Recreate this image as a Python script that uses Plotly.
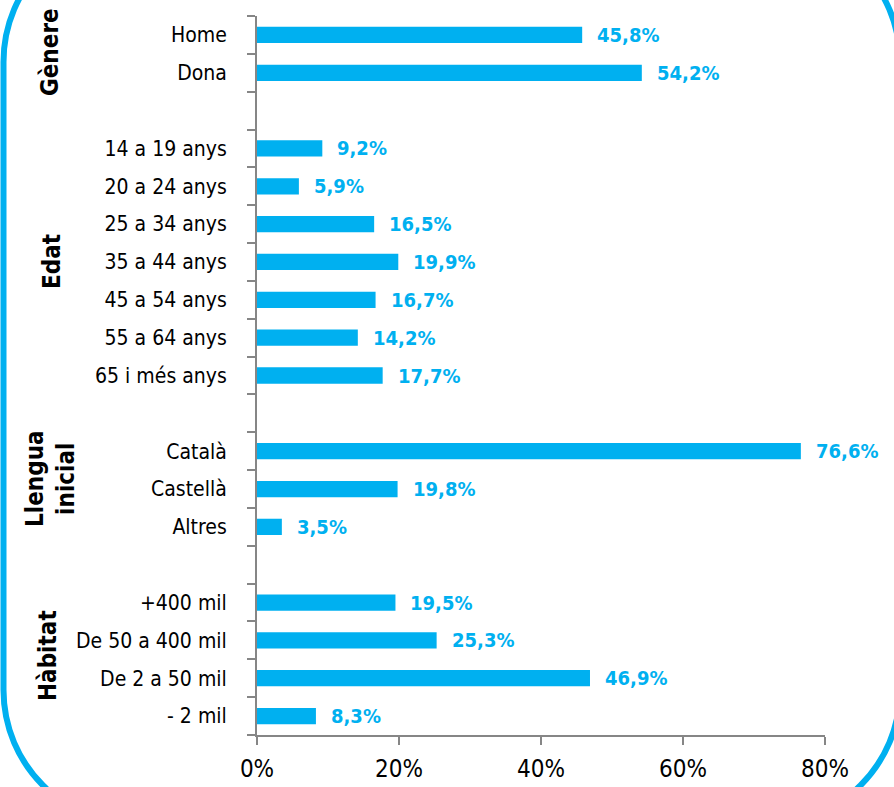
import plotly.graph_objects as go

# ---- data ----
categories = ["Home", "Dona", "",
              "14 a 19 anys", "20 a 24 anys", "25 a 34 anys", "35 a 44 anys",
              "45 a 54 anys", "55 a 64 anys", "65 i més anys", "",
              "Català", "Castellà", "Altres", "",
              "+400 mil", "De 50 a 400 mil", "De 2 a 50 mil", "- 2 mil"]
values = [45.8, 54.2, None,
          9.2, 5.9, 16.5, 19.9, 16.7, 14.2, 17.7, None,
          76.6, 19.8, 3.5, None,
          19.5, 25.3, 46.9, 8.3]
value_labels = ["45,8%", "54,2%", "",
                "9,2%", "5,9%", "16,5%", "19,9%", "16,7%", "14,2%", "17,7%", "",
                "76,6%", "19,8%", "3,5%", "",
                "19,5%", "25,3%", "46,9%", "8,3%"]
groups = ["Gènere", "Edat", "Llengua<br>inicial", "Hàbitat"]
x_ticks = [0, 20, 40, 60, 80]
x_tick_labels = ["0%", "20%", "40%", "60%", "80%"]

BLUE = "#00B0F0"
GRAY = "#868686"
FONT = "Liberation Sans Narrow, Arial Narrow, DejaVu Sans Condensed, sans-serif"

W, H = 894, 787
ML, MR, MT, MB = 257, 69, 16, 52
PW, PH = W - ML - MR, H - MT - MB

def px_x(px):
    return (px - ML) / PW

def px_y(py):
    return (H - MB - py) / PH

pos = list(range(len(categories)))
bar_pos = [p for p, v in zip(pos, values) if v is not None]
bar_vals = [v for v in values if v is not None]

fig = go.Figure()
fig.add_trace(go.Bar(
    x=bar_vals, y=bar_pos, orientation="h",
    marker=dict(color=BLUE, line=dict(width=0)),
    width=0.43, hoverinfo="skip",
))

annotations = []
for p, v, t in zip(pos, values, value_labels):
    if v is None:
        continue
    annotations.append(dict(
        x=v, y=p, xref="x", yref="y", text=t, showarrow=False,
        xanchor="left", yanchor="middle", xshift=13,
        font=dict(family=FONT, size=20, color=BLUE, weight="bold"),
    ))

group_pos = [(50, 52), (52, 262), (50, 479), (48, 656)]
for g, (gx, gy) in zip(groups, group_pos):
    annotations.append(dict(
        x=px_x(gx), y=px_y(gy), xref="paper", yref="paper", text=g,
        showarrow=False, textangle=-90, xanchor="center", yanchor="middle",
        font=dict(family=FONT, size=24, color="black", weight="bold"),
    ))

# rounded border (decoration), drawn with cubic curves in pixel space
x0, x1, y0, y1, R = 3.5, 900, -73, 825, 135
k = 0.5523 * R
def P(px, py):
    return f"{px_x(px):.5f},{px_y(py):.5f}"
path = (
    f"M {P(x0 + R, y0)} L {P(x1 - R, y0)} "
    f"C {P(x1 - R + k, y0)} {P(x1, y0 + R - k)} {P(x1, y0 + R)} "
    f"L {P(x1, y1 - R)} "
    f"C {P(x1, y1 - R + k)} {P(x1 - R + k, y1)} {P(x1 - R, y1)} "
    f"L {P(x0 + R, y1)} "
    f"C {P(x0 + R - k, y1)} {P(x0, y1 - R + k)} {P(x0, y1 - R)} "
    f"L {P(x0, y0 + R)} "
    f"C {P(x0, y0 + R - k)} {P(x0 + R - k, y0)} {P(x0 + R, y0)} Z"
)

fig.update_layout(
    width=W, height=H,
    margin=dict(l=ML, r=MR, t=MT, b=MB, pad=0, autoexpand=False),
    paper_bgcolor="white", plot_bgcolor="white",
    showlegend=False,
    annotations=annotations,
    shapes=[dict(type="path", path=path, xref="paper", yref="paper",
                 line=dict(color=BLUE, width=6), layer="above")],
    xaxis=dict(
        range=[0, 80], tickvals=x_ticks, ticktext=x_tick_labels,
        showgrid=False, zeroline=False, automargin=False,
        showline=True, linecolor=GRAY, linewidth=2,
        ticks="outside", ticklen=8, tickwidth=2, tickcolor=GRAY,
        ticklabelstandoff=3,
        tickfont=dict(family=FONT, size=24, color="black"),
    ),
    yaxis=dict(
        range=[18.5, -0.5], tickvals=pos, ticktext=categories,
        showgrid=False, zeroline=False, automargin=False,
        showline=True, linecolor=GRAY, linewidth=2,
        ticks="", ticklabelstandoff=24,
        tickfont=dict(family=FONT, size=21, color="black"),
        minor=dict(tickvals=[p - 0.5 for p in pos] + [len(pos) - 0.5],
                   ticks="outside", ticklen=8, tickwidth=2, tickcolor=GRAY,
                   showgrid=False),
    ),
)

fig.write_html("out.html", config={"displayModeBar": False},
               post_script="document.body.style.margin='0';document.body.style.overflow='hidden';")
